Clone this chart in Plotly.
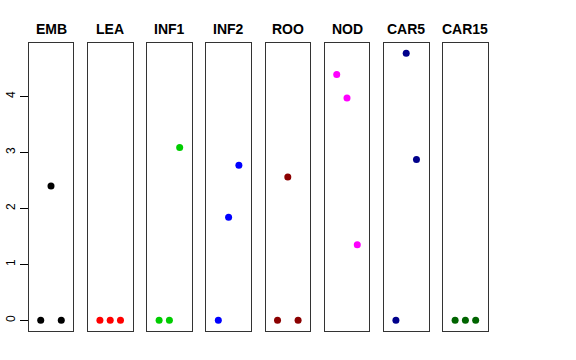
import plotly.graph_objects as go

panels = ["EMB", "LEA", "INF1", "INF2", "ROO", "NOD", "CAR5", "CAR15"]
colors = ["#000000", "#FF0000", "#00CD00", "#0000FF", "#8B0000", "#FF00FF", "#00008B", "#006400"]
x_pos = [1, 2, 3]
values = [
    [0, 2.40, 0],
    [0, 0, 0],
    [0, 0, 3.09],
    [0, 1.84, 2.77],
    [0, 2.56, 0],
    [4.39, 3.97, 1.35],
    [0, 4.77, 2.875],
    [0, 0, 0],
]
y_ticks = [0, 1, 2, 3, 4]

W, H = 576, 360
left0 = 28.7
pw = 44.6
step = 59.2
y_lo, y_hi = -0.19, 4.96
x_lo, x_hi = -0.17, 4.17

fig = go.Figure()
layout = dict(
    width=W, height=H,
    margin=dict(l=0, r=0, t=0, b=0, autoexpand=False),
    paper_bgcolor="white", plot_bgcolor="white",
    showlegend=False,
    font=dict(family="Liberation Sans, Arial, sans-serif", color="black"),
)
annotations = []
ydom = [(H - 331) / H, (H - 42.7) / H]
for i, (name, col, vals) in enumerate(zip(panels, colors, values)):
    k = "" if i == 0 else str(i + 1)
    x0 = (left0 + i * step) / W
    x1 = (left0 + i * step + pw) / W
    fig.add_trace(go.Scatter(
        x=x_pos, y=vals, mode="markers",
        marker=dict(color=col, size=7, line=dict(width=0)),
        xaxis="x" + k, yaxis="y" + k, hoverinfo="skip",
    ))
    layout["xaxis" + k] = dict(
        domain=[x0, x1], range=[x_lo, x_hi], anchor="y" + k,
        showline=True, mirror=True, linecolor="#333", linewidth=1,
        showticklabels=False, ticks="", showgrid=False, zeroline=False,
        automargin=False,
    )
    ya = dict(
        domain=ydom, range=[y_lo, y_hi], anchor="x" + k,
        showline=True, mirror=True, linecolor="#333", linewidth=1,
        showgrid=False, zeroline=False, automargin=False,
    )
    if i == 0:
        ya.update(tickvals=y_ticks, ticktext=[str(v) for v in y_ticks],
                  ticks="outside", ticklen=8, tickcolor="black",
                  tickangle=-90, tickfont=dict(size=12, color="black"))
    else:
        ya.update(showticklabels=False, ticks="")
    layout["yaxis" + k] = ya
    annotations.append(dict(
        text="<b>" + name + "</b>", x=0.5, y=1,
        xref="x" + k + " domain", yref="y" + k + " domain",
        xanchor="center", yanchor="middle", yshift=14, showarrow=False,
        font=dict(size=14, color="black"),
    ))
layout["annotations"] = annotations
fig.update_layout(**layout)
fig.write_html("out.html", config={"displayModeBar": False},
               post_script="document.body.style.margin='0';")
